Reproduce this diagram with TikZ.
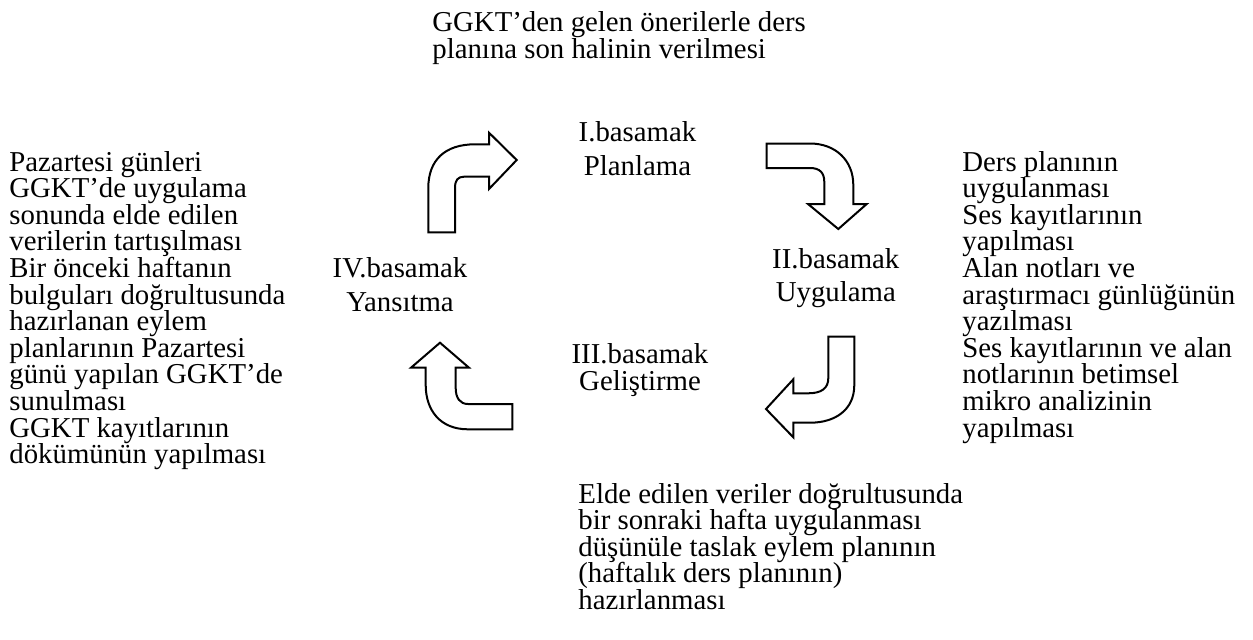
\documentclass[tikz,border=0pt]{standalone}
\usepackage{fontspec}
\setmainfont{Liberation Serif}
\begin{document}
\begin{tikzpicture}[x=0.5pt,y=-0.5pt,
  blk/.style={inner sep=0pt, align=left, font=\fontsize{14.4}{13.3}\selectfont},
  stage/.style={inner sep=0pt, align=center, font=\fontsize{14.4}{16.65}\selectfont},
  bent/.style={draw=black, line width=1pt, fill=white, line join=miter}]
\useasboundingbox[fill=white] (0,0) rectangle (1253,639);

\node[blk, anchor=base west] (top) at (432,58.3) {GGKT’den gelen önerilerle ders\\planına son halinin verilmesi};
\node[blk, anchor=base west] (left) at (9,463.6) {Pazartesi günleri\\GGKT’de uygulama\\sonunda elde edilen\\verilerin tartışılması\\Bir önceki haftanın\\bulguları doğrultusunda\\hazırlanan eylem\\planlarının Pazartesi\\günü yapılan GGKT’de\\sunulması\\GGKT kayıtlarının\\dökümünün yapılması};
\node[blk, anchor=base west] (right) at (962,437) {Ders planının\\uygulanması\\Ses kayıtlarının\\yapılması\\Alan notları ve\\araştırmacı günlüğünün\\yazılması\\Ses kayıtlarının ve alan\\notlarının betimsel\\mikro analizinin\\yapılması};
\node[blk, anchor=base west] (bottom) at (578,609.4) {Elde edilen veriler doğrultusunda\\bir sonraki hafta uygulanması\\düşünüle taslak eylem planının\\(haftalık ders planının)\\hazırlanması};

\node[stage, anchor=base] (s1) at (637.5,175) {I.basamak\\Planlama};
\node[stage, anchor=base] (s2) at (835.8,301.7) {II.basamak\\Uygulama};
\node[stage, anchor=base, font=\fontsize{14.4}{13.5}\selectfont] (s3) at (640,390) {III.basamak\\Geliştirme};
\node[stage, anchor=base] (s4) at (400,311) {IV.basamak\\Yansıtma};

% arrow 1 (IV -> I)
\draw[bent] (428.3,232.3) -- (428.3,188) .. controls (428.3,160) and (445,144.3) .. (475,144.3)
  -- (489,144.3) -- (489,132.7) -- (516.7,160) -- (489,189) -- (489,176.7) -- (464,176.7)
  .. controls (458,176.7) and (455,180) .. (455,188) -- (455,232.3) -- cycle;
% arrow 2 (I -> II)
\draw[bent] (766.7,143.5) -- (810,143.5) .. controls (835,143.5) and (853.3,160) .. (853.3,185)
  -- (853.3,204) -- (866.7,204) -- (838.3,229) -- (808,204) -- (824.3,204) -- (824.3,182)
  .. controls (824.3,173) and (820,168) .. (810,168) -- (766.7,168) -- cycle;
% arrow 3 (II -> III)
\draw[bent] (828.3,336.7) -- (854.3,336.7) -- (854.3,385) .. controls (854.3,410) and (835,422.7) .. (810,422.7)
  -- (793.3,422.7) -- (793.3,437.3) -- (766,409) -- (793.3,379.3) -- (793.3,393.3) -- (808,393.3)
  .. controls (822,393.3) and (828.3,388) .. (828.3,378) -- cycle;
% arrow 4 (III -> IV)
\draw[bent] (440,342.7) -- (469,367.7) -- (455.7,367.7) -- (455.7,388) .. controls (455.7,398) and (460,404) .. (468,404)
  -- (512.3,404) -- (512.3,429.3) -- (468,429.3) .. controls (440,429.3) and (425.7,410) .. (425.7,385)
  -- (425.7,367.7) -- (411,367.7) -- cycle;
\end{tikzpicture}
\end{document}
